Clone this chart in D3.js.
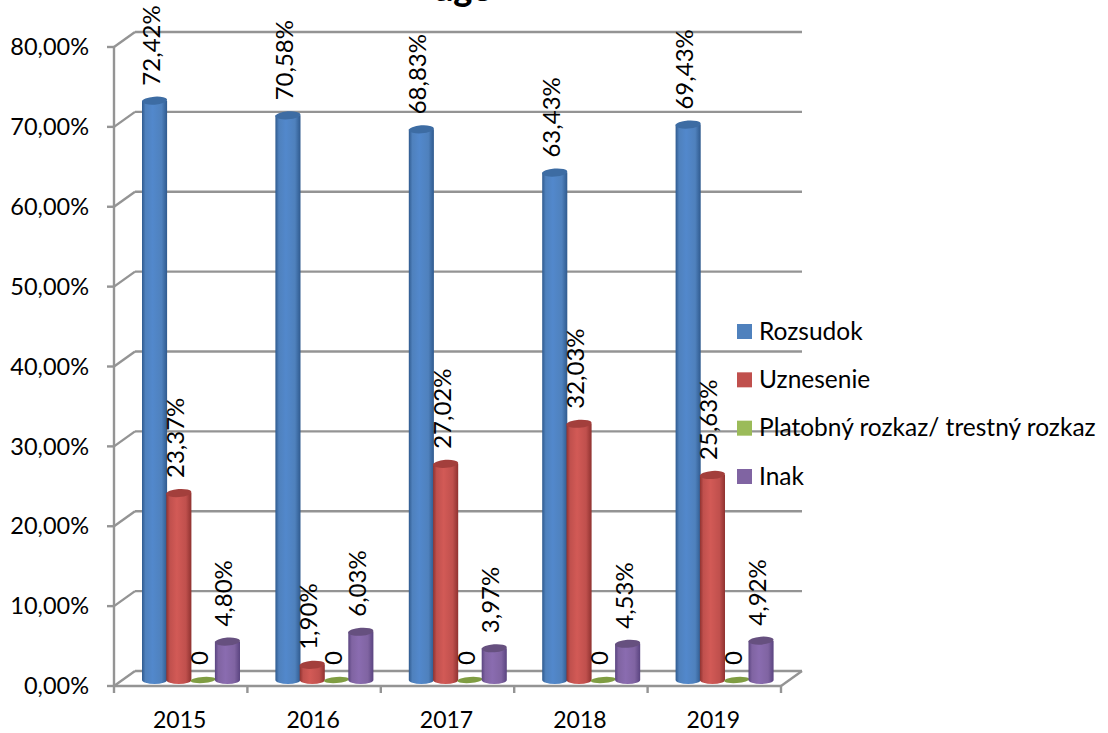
<!DOCTYPE html>
<html><head><meta charset="utf-8"><script src="https://cdn.jsdelivr.net/npm/d3@7/dist/d3.min.js"></script>
<style>html,body{margin:0;background:#fff}svg{display:block}text{font-family:Lato,"Open Sans",sans-serif;fill:#000}</style></head>
<body><svg id="c" width="1108" height="733"></svg>
<script>
const titleFragment="age";
const years=["2015","2016","2017","2018","2019"];
const seriesNames=["Rozsudok","Uznesenie","Platobný rozkaz/ trestný rozkaz","Inak"];
const rozsudok=[72.42,70.58,68.83,63.43,69.43];
const uznesenie=[23.37,1.90,27.02,32.03,25.63];
const platobny=[0,0,0,0,0];
const inak=[4.80,6.03,3.97,4.53,4.92];
const yTicks=[0,10,20,30,40,50,60,70,80];
const values=[rozsudok,uznesenie,platobny,inak];
const colors=["#4f81bd","#c0504d","#9bbb59","#8064a2"];
const tops=["#3d6ca3","#a33f3c","#7f9d42","#66507f"];
const darks=["#2f5a8e","#8f3230","#6b8636","#5a4480"];
const lights=["#5288cc","#d25a56","#a9cc60","#8a6cb0"];
const fmt=v=>v.toFixed(2).replace(".",",");

const svg=d3.select("#c");
const defs=svg.append("defs");
seriesNames.forEach((s,i)=>{
  const g=defs.append("linearGradient").attr("id","g"+i).attr("x1",0).attr("x2",1).attr("y1",0).attr("y2",0);
  [[0,darks[i]],[.14,colors[i]],[.42,lights[i]],[.78,colors[i]],[1,darks[i]]].forEach(([o,c])=>g.append("stop").attr("offset",o).attr("stop-color",c));
});
const dx=21,dy=-15;
const y=d3.scaleLinear().domain([0,80]).range([686,47]);
const x0=d3.scaleBand().domain(years).range([114,781]);
const x1=d3.scaleBand().domain(seriesNames).range([28,125.2]);
const yBar=d3.scaleLinear().domain([0,80]).range([680,40]);
const gridC="#949494";

svg.append("text").attr("x",463).attr("y",1).attr("text-anchor","middle").style("font-size","36px").style("font-weight","900").text(titleFragment);

const line=(a,b,c,d,w=2.4)=>svg.append("line").attr("x1",a).attr("y1",b).attr("x2",c).attr("y2",d).attr("stroke",gridC).attr("stroke-width",w);
const xL=x0.range()[0],xR=x0.range()[1];
yTicks.forEach(t=>{
  line(xL+dx,y(t)+dy,xR+dx,y(t)+dy);
  line(xL,y(t),xL+dx,y(t)+dy);
  line(xL-7,y(t),xL,y(t));
  svg.append("text").attr("x",xL-25).attr("y",y(t)).attr("dy","0.35em").attr("text-anchor","end").style("font-size","23.5px").text(fmt(t)+"%");
});
line(xL,y(80),xL,y(0));
line(xL,y(0),xR,y(0));
line(xR,y(0),xR+dx,y(0)+dy);
years.concat("end").forEach((yr,i)=>{
  const px=xL+i*x0.step();
  line(px,y(0),px,y(0)+7);
});
years.forEach(yr=>svg.append("text").attr("x",x0(yr)+x0.bandwidth()/2-1).attr("y",728).attr("text-anchor","middle").style("font-size","23px").text(yr));

years.forEach((yr,yi)=>{
  seriesNames.forEach((s,si)=>{
    const v=values[si][yi], l=x0(yr)+x1(s), w=x1.bandwidth()+0.8, r=w/2, base=yBar(0), top=yBar(v), ry=v>0?4:3;
    const g=svg.append("g");
    if(v>0){
      g.append("path").attr("d",`M${l},${top}L${l},${base}A${r},${ry} 0 0 0 ${l+w},${base}L${l+w},${top}Z`).attr("fill",`url(#g${si})`);
    }
    g.append("ellipse").attr("cx",l+r).attr("cy",top).attr("rx",r).attr("ry",ry)
      .attr("transform",`rotate(-4 ${l+r} ${top})`).attr("fill",tops[si]);
  });
});
years.forEach((yr,yi)=>{
  seriesNames.forEach((s,si)=>{
    const v=values[si][yi], cx=x0(yr)+x1(s)+x1.bandwidth()/2-3, top=yBar(v);
    const txt=v===0?"0":fmt(v)+"%";
    svg.append("text").attr("transform",`translate(${cx},${top-15}) rotate(-90)`).attr("dy","0.35em").style("font-size","24px").text(txt);
  });
});
const ly=d3.scalePoint().domain(seriesNames).range([331,476]);
seriesNames.forEach((s,i)=>{
  svg.append("rect").attr("x",737).attr("y",ly(s)-7).attr("width",15).attr("height",15).attr("fill",colors[i]);
  svg.append("text").attr("x",759).attr("y",ly(s)).attr("dy","0.35em").style("font-size","24.5px").text(s);
});
</script></body></html>
